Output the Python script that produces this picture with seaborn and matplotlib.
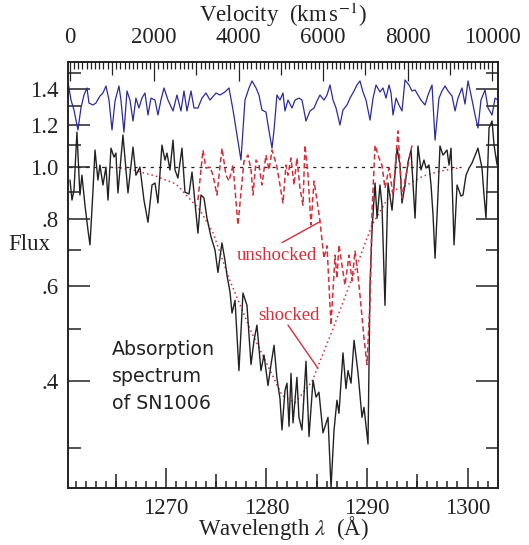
import numpy as np
import pandas as pd
import seaborn as sns
import matplotlib.pyplot as plt
from matplotlib.ticker import FixedLocator, FixedFormatter, MultipleLocator, NullFormatter, FuncFormatter

# observed spectrum of SN1006 (black)
obs_wave = [1260.45, 1260.65, 1260.85, 1261.14, 1261.44, 1261.64, 1261.94, 1262.24, 1262.44, 1262.74,
            1262.94, 1263.23, 1263.43, 1263.73, 1264.03, 1264.23, 1264.53, 1264.83, 1265.02, 1265.22,
            1265.72, 1266.22, 1266.72, 1267.01, 1267.41, 1267.81, 1268.21, 1268.61, 1268.91, 1269.2,
            1269.6, 1269.9, 1270.1, 1270.4, 1270.7, 1270.9, 1271.19, 1271.59, 1271.89, 1272.29,
            1272.59, 1272.89, 1273.18, 1273.48, 1273.78, 1274.08, 1274.48, 1274.88, 1275.17, 1275.57,
            1275.87, 1276.07, 1276.37, 1276.57, 1276.87, 1277.26, 1277.66, 1278.06, 1278.46, 1278.76,
            1279.05, 1279.45, 1279.75, 1280.15, 1280.45, 1280.75, 1281.04, 1281.34, 1281.54, 1281.84,
            1282.04, 1282.24, 1282.44, 1282.64, 1283.03, 1283.23, 1283.53, 1283.93, 1284.23, 1284.63,
            1284.93, 1285.22, 1285.62, 1286.12, 1286.42, 1286.72, 1287.01, 1287.21, 1287.61, 1287.91,
            1288.11, 1288.41, 1288.71, 1289.1, 1289.5, 1289.7, 1290.1, 1290.3, 1290.5, 1290.8,
            1291.0, 1291.29, 1291.49, 1291.79, 1292.09, 1292.49, 1292.99, 1293.28, 1293.48, 1293.78,
            1294.08, 1294.38, 1294.58, 1294.78, 1295.07, 1295.37, 1295.67, 1295.87, 1296.17, 1296.37,
            1296.57, 1296.77, 1297.06, 1297.26, 1297.56, 1297.96, 1298.16, 1298.36, 1298.66, 1298.96,
            1299.35, 1299.55, 1299.85, 1300.15, 1300.45, 1300.65, 1301.04, 1301.44, 1301.64, 1301.84,
            1302.14, 1302.44, 1302.64, 1302.94, 1303.03]
obs_flux = [0.947, 0.869, 0.907, 1.163, 0.888, 0.967, 0.850, 0.764, 0.717, 0.907,
            1.077, 0.947, 1.010, 0.927, 1.001, 0.869, 1.086, 1.045, 1.063, 0.896,
            1.149, 0.896, 1.091, 0.967, 1.001, 0.869, 0.790, 0.927, 0.935, 0.858,
            1.100, 1.032, 1.063, 0.989, 1.124, 0.989, 0.955, 1.086, 0.899, 0.892,
            0.980, 0.858, 0.754, 0.888, 0.877, 0.804, 0.742, 0.701, 0.637, 0.723,
            0.671, 0.629, 0.586, 0.535, 0.565, 0.418, 0.583, 0.553, 0.429, 0.476,
            0.508, 0.418, 0.447, 0.392, 0.429, 0.466, 0.404, 0.371, 0.324, 0.384,
            0.396, 0.329, 0.413, 0.334, 0.406, 0.342, 0.324, 0.435, 0.315, 0.401,
            0.373, 0.381, 0.320, 0.342, 0.253, 0.324, 0.368, 0.348, 0.451, 0.387,
            0.418, 0.396, 0.476, 0.415, 0.342, 0.357, 0.305, 0.603, 0.764, 0.935,
            0.804, 0.927, 0.850, 0.553, 0.935, 0.832, 1.086, 1.010, 0.858, 0.927,
            1.023, 1.077, 0.927, 0.804, 1.096, 0.989, 1.032, 0.997, 1.010, 0.927,
            0.815, 0.677, 0.888, 1.096, 1.054, 1.077, 1.010, 1.086, 0.717, 0.927,
            0.884, 0.888, 0.967, 0.997, 1.019, 1.041, 1.086, 0.997, 0.888, 0.804,
            1.184, 1.220, 1.100, 1.010, 1.077]

# comparison spectrum, offset upward (blue)
cmp_wave = [1260.25, 1260.55, 1260.85, 1261.24, 1261.54, 1261.84, 1262.14, 1262.34, 1262.74, 1263.03,
            1263.43, 1263.73, 1264.03, 1264.33, 1264.63, 1264.93, 1265.32, 1265.52, 1265.82, 1266.12,
            1266.42, 1266.72, 1267.01, 1267.31, 1267.61, 1267.91, 1268.21, 1268.51, 1268.91, 1269.2,
            1269.5, 1269.8, 1270.2, 1270.7, 1271.09, 1271.49, 1271.79, 1272.09, 1272.49, 1272.79,
            1273.18, 1273.58, 1273.98, 1274.38, 1274.98, 1275.37, 1275.87, 1276.27, 1276.67, 1277.06,
            1277.46, 1277.86, 1278.26, 1278.56, 1278.96, 1279.25, 1279.55, 1279.95, 1280.25, 1280.55,
            1280.75, 1281.04, 1281.34, 1281.64, 1281.84, 1282.14, 1282.54, 1282.84, 1283.23, 1283.53,
            1283.93, 1284.33, 1284.73, 1285.02, 1285.32, 1285.72, 1286.02, 1286.32, 1286.62, 1286.92,
            1287.31, 1287.61, 1288.01, 1288.31, 1288.71, 1289.0, 1289.3, 1289.6, 1289.9, 1290.3,
            1290.6, 1290.9, 1291.29, 1291.59, 1291.89, 1292.19, 1292.39, 1292.59, 1292.89, 1293.18,
            1293.48, 1293.78, 1294.18, 1294.48, 1294.78, 1295.07, 1295.37, 1295.77, 1296.07, 1296.47,
            1296.77, 1297.16, 1297.46, 1297.76, 1298.06, 1298.46, 1298.76, 1299.05, 1299.45, 1299.75,
            1300.05, 1300.35, 1300.75, 1301.04, 1301.34, 1301.74, 1302.04, 1302.44, 1302.74, 1303.03]
cmp_flux = [1.443, 1.335, 1.279, 1.174, 1.290, 1.364, 1.406, 1.318, 1.307, 1.318,
            1.358, 1.376, 1.418, 1.335, 1.174, 1.329, 1.418, 1.335, 1.163, 1.388,
            1.335, 1.220, 1.346, 1.290, 1.346, 1.376, 1.252, 1.346, 1.335, 1.252,
            1.335, 1.406, 1.335, 1.274, 1.364, 1.274, 1.388, 1.274, 1.388, 1.290,
            1.290, 1.346, 1.376, 1.335, 1.376, 1.364, 1.382, 1.406, 1.279, 1.149,
            1.032, 1.335, 1.406, 1.449, 1.406, 1.364, 1.279, 1.268, 1.169, 1.086,
            1.174, 1.364, 1.335, 1.376, 1.274, 1.335, 1.290, 1.335, 1.346, 1.335,
            1.220, 1.274, 1.290, 1.329, 1.364, 1.335, 1.364, 1.424, 1.335, 1.290,
            1.199, 1.279, 1.307, 1.346, 1.388, 1.424, 1.449, 1.382, 1.335, 1.225,
            1.346, 1.424, 1.382, 1.406, 1.346, 1.424, 1.376, 1.252, 1.346, 1.307,
            1.274, 1.455, 1.424, 1.388, 1.394, 1.364, 1.335, 1.307, 1.364, 1.424,
            1.124, 1.346, 1.388, 1.418, 1.388, 1.358, 1.274, 1.346, 1.406, 1.312,
            1.449, 1.364, 1.252, 1.184, 1.335, 1.394, 1.290, 1.252, 1.346, 1.335]

# unshocked model (red dashed)
unsh_wave = [1273.18, 1273.68, 1273.98, 1274.38, 1274.68, 1275.07, 1275.57, 1275.97, 1276.27, 1276.67,
             1277.16, 1277.76, 1278.16, 1278.46, 1278.66, 1278.96, 1279.25, 1279.55, 1279.95, 1280.25,
             1280.55, 1280.85, 1281.04, 1281.34, 1281.64, 1281.94, 1282.14, 1282.44, 1282.74, 1283.03,
             1283.33, 1283.63, 1283.83, 1284.13, 1284.43, 1284.73, 1285.02, 1285.32, 1285.72, 1286.02,
             1286.42, 1286.82, 1287.01, 1287.21, 1287.51, 1287.81, 1288.21, 1288.51, 1288.81, 1289.1,
             1289.3, 1289.7, 1290.0, 1290.3, 1290.5, 1290.8, 1291.19, 1291.49, 1291.79, 1292.19,
             1292.59, 1293.08, 1293.48, 1293.78, 1294.08, 1294.48]
unsh_flux = [0.869, 1.077, 0.997, 1.001, 0.967, 0.888, 1.086, 0.967, 0.943, 1.010,
             0.781, 1.027, 1.054, 0.989, 0.888, 1.032, 1.010, 0.927, 1.054, 0.989,
             1.077, 1.032, 1.001, 0.927, 0.858, 1.010, 0.967, 1.041, 0.927, 1.041,
             0.915, 0.850, 1.100, 0.967, 0.781, 0.943, 0.869, 0.794, 0.677, 0.714,
             0.508, 0.686, 0.621, 0.717, 0.657, 0.603, 0.686, 0.614, 0.698, 0.629,
             0.578, 0.480, 0.429, 0.565, 0.829, 1.100, 1.041, 1.010, 0.915, 0.997,
             0.888, 1.169, 0.877, 0.947, 1.010, 1.100]

# shocked model (red dotted)
sh_wave = [1264.53, 1266.72, 1269.0, 1271.0, 1273.4, 1274.7, 1276.27, 1278.46, 1280.75, 1281.54,
           1282.84, 1284.53, 1286.52, 1288.51, 1290.5, 1291.49, 1292.49, 1293.98, 1295.57, 1297.26,
           1299.05]
sh_flux = [1.001, 0.989, 0.963, 0.931, 0.832, 0.754, 0.621, 0.495, 0.404, 0.376,
           0.364, 0.399, 0.495, 0.621, 0.781, 0.839, 0.903, 0.927, 0.963, 0.984,
           0.997]

continuum_wave = [1260.4, 1299.4]
continuum_level = 1.0

ytick_vals = [0.4, 0.6, 0.8, 1.0, 1.2, 1.4]
ytick_labels = [".4", ".6", ".8", "1.0", "1.2", "1.4"]
yminor_vals = [0.3, 0.5, 0.7, 0.9, 1.1, 1.3, 1.5]
xtick_vals = [1270, 1280, 1290, 1300]
xmid_vals = [1265, 1275, 1285, 1295]
vtick_vals = [0, 2000, 4000, 6000, 8000, 10000]

LAM0 = 1260.42
C_KMS = 299792.458

sns.set_style("ticks")
plt.rcParams['font.family'] = ['Liberation Serif', 'DejaVu Serif']
plt.rcParams['mathtext.fontset'] = 'stix'

red = '#d3303c'
blue = '#2c2c98'
ink = '#222222'

rect = [0.1285, 0.1037, 0.8138, 0.7826]
fig = plt.figure(figsize=(5.29, 5.45), dpi=100)
ax = fig.add_axes(rect)

obs = pd.DataFrame({'wave': obs_wave, 'flux': obs_flux})
cmp_ = pd.DataFrame({'wave': cmp_wave, 'flux': cmp_flux})
unsh = pd.DataFrame({'wave': unsh_wave, 'flux': unsh_flux})
sh = pd.DataFrame({'wave': sh_wave, 'flux': sh_flux})

ax.plot(continuum_wave, [continuum_level] * 2, color=ink, lw=0.9, ls=(0, (2.5, 4)))
sns.lineplot(data=cmp_, x='wave', y='flux', ax=ax, color=blue, lw=0.9, sort=False)
sns.lineplot(data=sh, x='wave', y='flux', ax=ax, color=red, lw=1.1, ls=(0, (1, 2)), sort=False)
sns.lineplot(data=obs, x='wave', y='flux', ax=ax, color=ink, lw=1.0, sort=False)
sns.lineplot(data=unsh, x='wave', y='flux', ax=ax, color=red, lw=1.1, ls=(0, (3.5, 2)), sort=False)

ax.set_yscale('log')
xlim = (1260.25, 1303.08)
ax.set_xlim(*xlim)
ax.set_ylim(0.252, 1.572)

ax.yaxis.set_major_locator(FixedLocator(ytick_vals))
ax.yaxis.set_major_formatter(FixedFormatter(ytick_labels))
ax.yaxis.set_minor_locator(FixedLocator(yminor_vals))
ax.yaxis.set_minor_formatter(NullFormatter())

ax.xaxis.set_major_locator(FixedLocator(xtick_vals))
ax.xaxis.set_minor_locator(MultipleLocator(1))
ax.xaxis.set_major_formatter(FuncFormatter(lambda v, p: f"{v:.0f}"))

ax.tick_params(axis='both', which='both', direction='in', colors=ink, width=1.1)
ax.tick_params(axis='y', which='major', length=16, left=True, right=True, labelsize=16.5, pad=7)
ax.tick_params(axis='y', which='minor', length=9, left=True, right=True)
ax.tick_params(axis='x', which='major', length=14.4, bottom=True, top=False, labelsize=16.5, pad=6.5)
ax.tick_params(axis='x', which='minor', length=5, bottom=True, top=False)

for s in ax.spines.values():
    s.set_color(ink)
    s.set_linewidth(1.4)

# medium ticks every 5 A along the bottom (axes-fraction lengths)
ax.vlines(xmid_vals, 0, 0.033, transform=ax.get_xaxis_transform(), colors=ink, lw=1.1)

# velocity scale on top, linear in wavelength
def lam2v(lam):
    return C_KMS * (np.asarray(lam) / LAM0 - 1.0)

def v2lam(v):
    return LAM0 * (1.0 + np.asarray(v) / C_KMS)

v_ticks = np.arange(0, 10001, 100)
v_len = np.where(v_ticks % 2000 == 0, 0.0445, np.where(v_ticks % 1000 == 0, 0.0305, 0.0176))
ax.vlines(v2lam(v_ticks), 1 - v_len, 1, transform=ax.get_xaxis_transform(), colors=ink, lw=0.9)

top = fig.add_axes(rect, frameon=False, zorder=5)
top.patch.set_visible(False)
top.set_xlim(lam2v(xlim[0]), lam2v(xlim[1]))
top.set_ylim(0, 1)
top.yaxis.set_visible(False)
top.xaxis.tick_top()
top.xaxis.set_label_position('top')
top.xaxis.set_major_locator(FixedLocator(vtick_vals))
top.xaxis.set_minor_locator(FixedLocator([]))
top.xaxis.set_major_formatter(FuncFormatter(lambda v, p: f"{v:.0f}"))
top.tick_params(axis='x', which='major', direction='in', length=0, colors=ink,
                labelsize=16.5, pad=10, top=True, bottom=False)
top.set_xlabel(r"Velocity  (km$\,$s$^{-1}$)", fontsize=16.5, color=ink, labelpad=4)

ax.set_xlabel(r"Wavelength $\lambda$  (Å)", fontsize=16.5, color=ink, labelpad=-3)
ax.set_ylabel("Flux", fontsize=16.5, color=ink, rotation=0, ha='center', va='center')
ax.yaxis.set_label_coords(-0.09, 0.571)

# labels for the two models
ax.text(1277.06, 0.671, "unshocked", color=red, fontsize=13.5, va='baseline')
ax.text(1279.15, 0.519, "shocked", color=red, fontsize=13.5, va='baseline')
ax.plot([1281.54, 1285.32], [0.724, 0.792], color=red, lw=1.0)
ax.plot([1282.14, 1285.12], [0.508, 0.422], color=red, lw=1.0)

sans = ['DejaVu Sans']
ax.text(1264.6, 0.4467, "Absorption", color=ink, fontsize=13.7, family=sans, va='baseline')
ax.text(1264.6, 0.398, "spectrum", color=ink, fontsize=13.7, family=sans, va='baseline')
ax.text(1264.6, 0.355, "of SN1006", color=ink, fontsize=13.7, family=sans, va='baseline')

plt.savefig('out.png', dpi=100)
